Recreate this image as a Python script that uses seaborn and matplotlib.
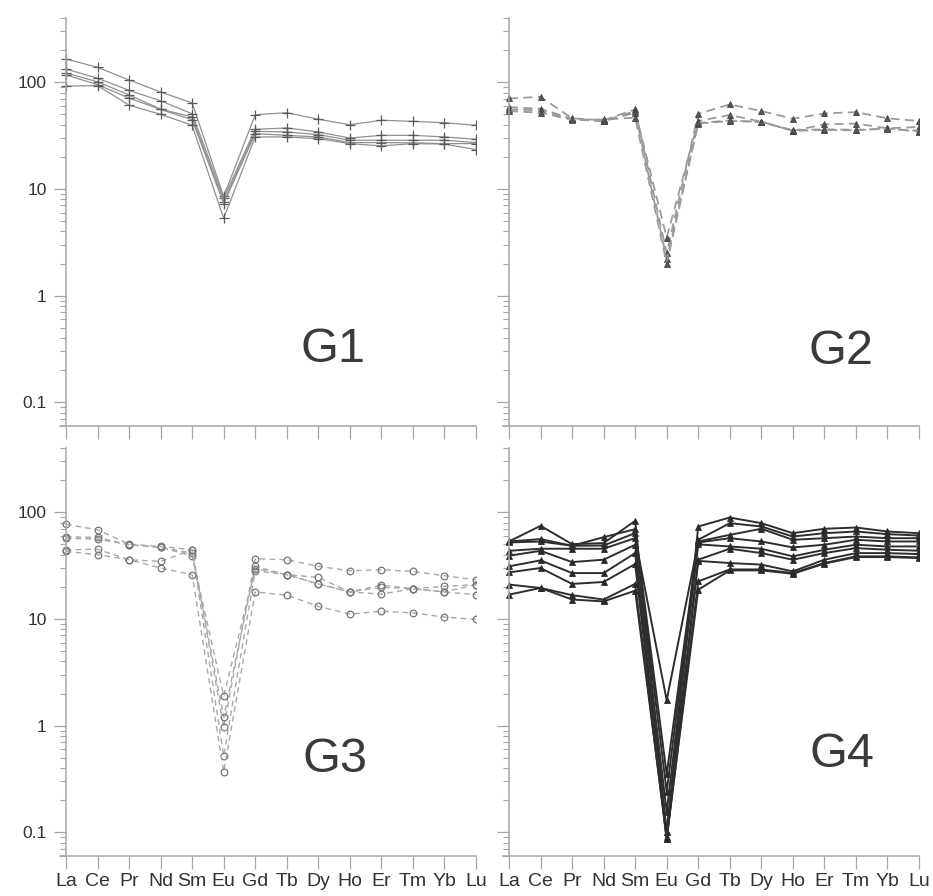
import matplotlib
matplotlib.use("Agg")
import matplotlib.pyplot as plt
import numpy as np
import pandas as pd
import seaborn as sns
from matplotlib.ticker import FixedLocator, LogLocator, FuncFormatter, NullFormatter

# Chondrite-normalised REE patterns, four sample groups
elements = ["La", "Ce", "Pr", "Nd", "Sm", "Eu", "Gd", "Tb", "Dy", "Ho", "Er", "Tm", "Yb", "Lu"]

g1_samples = [
    [165, 138, 105, 81, 64, 8.5, 49.6, 51.8, 45, 40, 44, 43, 41.7, 39.5],
    [133, 109, 84, 67, 50.6, 8.2, 36.2, 37.3, 34.2, 30, 31.8, 31.8, 30.7, 29.2],
    [122, 101, 76, 56, 47.2, 7.6, 34.7, 34.2, 32.3, 28.6, 28.6, 28.6, 28.6, 27.2],
    [117, 95, 71, 55.6, 44.5, 7.3, 33, 31.8, 30.7, 27.2, 27.2, 27, 26.6, 26.6],
    [92, 93, 61, 50, 39.5, 5.3, 30.7, 30.7, 29.6, 26.6, 25.3, 26.6, 26.3, 23.4],
]

g2_samples = [
    [70.5, 72.9, 45.9, 44.0, 55.6, 2.5, 50.6, 62.0, 53.7, 45.5, 51.0, 52.5, 45.9, 43.3],
    [58.5, 56.4, 45.5, 43.3, 53.7, 3.5, 43.3, 49.3, 42.7, 35.0, 40.3, 41.0, 37.0, 38.1],
    [55.6, 54.5, 45.0, 43.0, 51.8, 2.2, 41.0, 43.3, 42.7, 35.0, 35.7, 35.4, 37.0, 34.4],
    [53.7, 51.8, 44.5, 44.8, 46.5, 2.0, 41.5, 43.8, 42.2, 35.5, 36.2, 35.9, 36.5, 35.0],
]

g3_samples = [
    [77, 68.5, 50.2, 47.8, 44.5, 0.97, 36.7, 35.9, 31.1, 28.3, 28.9, 27.9, 25.4, 23.3],
    [59, 58, 49.6, 46.8, 41.4, 1.2, 31.1, 26.0, 24.5, 17.9, 20.7, 19.2, 20.2, 21.0],
    [57, 56, 49.6, 46.8, 39.1, 1.9, 29.6, 26.0, 21.3, 17.9, 19.8, 19.2, 17.9, 21.0],
    [44.5, 45, 35.9, 34.6, 44.5, 0.52, 28.3, 26.0, 21.3, 17.9, 17.1, 19.2, 17.9, 16.9],
    [43, 40, 35.9, 30, 26, 0.37, 17.9, 16.7, 13.1, 11.1, 11.8, 11.4, 10.4, 9.9],
]

g4_samples = [
    [53.2, 74.6, 50.2, 51.4, 83.0, 0.10, 73.5, 89.2, 79.0, 63.6, 70.0, 71.9, 66.0, 63.6],
    [53.2, 56.0, 48.5, 58.4, 69.4, 0.35, 55.2, 79.0, 73.5, 59.2, 63.6, 66.0, 62.3, 60.5],
    [52.1, 53.2, 48.5, 48.8, 63.7, 0.24, 53.2, 61.4, 70.0, 55.2, 57.1, 59.2, 57.1, 57.1],
    [43.5, 45.5, 45.5, 45.5, 57.2, 1.73, 52.1, 57.1, 53.2, 46.8, 49.6, 55.2, 53.2, 53.2],
    [39.1, 43.5, 34.1, 35.9, 49.5, 0.155, 50.0, 47.8, 45.5, 38.6, 44.5, 49.6, 47.8, 47.8],
    [31.1, 35.4, 26.9, 26.9, 41.4, 0.10, 35.9, 45.5, 41.4, 35.9, 41.4, 46.1, 44.5, 43.6],
    [27.3, 30.0, 21.3, 22.2, 32.7, 0.086, 35.0, 33.4, 32.3, 27.9, 35.9, 41.4, 41.4, 40.5],
    [21.0, 19.5, 16.7, 15.2, 21.3, 0.086, 22.5, 29.1, 29.1, 26.9, 33.4, 38.6, 38.6, 37.7],
    [16.9, 19.5, 15.2, 14.6, 18.4, 0.09, 18.8, 28.5, 28.5, 26.5, 33.0, 38.0, 38.0, 37.2],
]

group_names = ["G1", "G2", "G3", "G4"]
group_data = [g1_samples, g2_samples, g3_samples, g4_samples]


def to_long(samples):
    rows = []
    for s, vals in enumerate(samples):
        for i, v in enumerate(vals):
            rows.append({"pos": i, "element": elements[i], "value": v, "sample": s})
    return pd.DataFrame(rows)


styles = {
    "G1": dict(color="#909090", lw=0.9, linestyle="-", marker="+", markersize=7,
               markeredgecolor="#5a5a5a", markerfacecolor="#5a5a5a", markeredgewidth=0.9),
    "G2": dict(color="#9a9a9a", lw=1.3, linestyle=(0, (5, 3)), marker="^", markersize=4.5,
               markeredgecolor="#444444", markerfacecolor="#555555", markeredgewidth=0.6),
    "G3": dict(color="#a8a8a8", lw=1.0, linestyle=(0, (4, 3)), marker="o", markersize=4.8,
               markeredgecolor="#777777", markerfacecolor="none", markeredgewidth=0.9),
    "G4": dict(color="#2e2e2e", lw=1.4, linestyle="-", marker="^", markersize=4.8,
               markeredgecolor="#2a2a2a", markerfacecolor="#2a2a2a", markeredgewidth=0.6),
}

label_pos = {"G1": (0.656, 0.157), "G2": (0.812, 0.152),
             "G3": (0.660, 0.206), "G4": (0.814, 0.218)}

sns.set_theme(style="white")
plt.rcParams["font.family"] = ["Liberation Sans", "DejaVu Sans"]

W, H = 933, 896
fig = plt.figure(figsize=(W / 100, H / 100), dpi=100)

ax_w = 416 / W
ax_h = 408 / H
lefts = [60 / W, 503 / W]
bottoms = [(H - 426) / H, (H - 856) / H]

spine_col = "#a6a6a6"
text_col = "#333333"

for k, (name, samples) in enumerate(zip(group_names, group_data)):
    row, col = divmod(k, 2)
    ax = fig.add_axes([lefts[col], bottoms[row], ax_w, ax_h])
    ax.set_yscale("log")
    df = to_long(samples)
    sns.lineplot(data=df, x="pos", y="value", units="sample", estimator=None,
                 sort=False, legend=False, ax=ax, **styles[name])

    ax.set_xlim(-0.19, 13)
    ax.set_ylim(0.06, 400)
    ax.spines["top"].set_visible(False)
    ax.spines["right"].set_visible(False)
    ax.spines["left"].set_position(("data", 0))
    for sp in ("left", "bottom"):
        ax.spines[sp].set_color(spine_col)
        ax.spines[sp].set_linewidth(1.1)

    ax.set_xticks(range(len(elements)))
    if row == 1:
        ax.set_xticklabels(elements, fontsize=14, color=text_col)
    else:
        ax.set_xticklabels([])
    ax.tick_params(axis="x", which="major", direction="out", length=9.5, width=0.9,
                   color=spine_col, pad=2.5, bottom=True)

    ax.yaxis.set_major_locator(FixedLocator([0.1, 1, 10, 100]))
    ax.yaxis.set_minor_locator(LogLocator(base=10, subs=np.arange(2, 10)))
    ax.yaxis.set_minor_formatter(NullFormatter())
    if col == 0:
        ax.yaxis.set_major_formatter(FuncFormatter(lambda v, _: f"{v:g}"))
    else:
        ax.yaxis.set_major_formatter(NullFormatter())
    ax.tick_params(axis="y", which="major", direction="out", length=9, width=0.9,
                   color=spine_col, labelsize=12.5, labelcolor=text_col, pad=5, left=True)
    ax.tick_params(axis="y", which="minor", direction="out", length=4.5, width=0.8,
                   color=spine_col, left=True)

    ax.set_xlabel("")
    ax.set_ylabel("")
    ax.grid(False)

    tx, ty = label_pos[name]
    ax.text(tx, ty, name, transform=ax.transAxes, ha="center", va="baseline",
            fontsize=35, color="#3a3a3a")

fig.savefig("out.png", dpi=100)
